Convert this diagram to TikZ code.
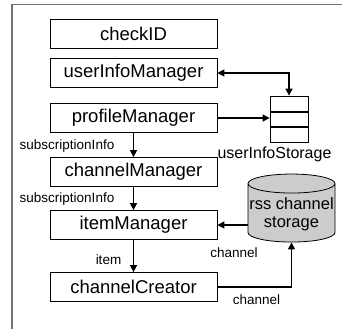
\documentclass[tikz,border=0pt]{standalone}
\usepackage{fontspec}
\setmainfont{Liberation Sans}
\usetikzlibrary{positioning,calc,arrows.meta,shapes.geometric}
\tikzset{font=\fontsize{18.5}{20}\selectfont}

\begin{document}
\begin{tikzpicture}[x=1pt,y=-1pt]
	\useasboundingbox (0,0) rectangle (342,329);
	\draw [line width=1.2pt, gray!90!black] (12,329) -- (12,4.5) -- (342,4.5);
	\begin{scope}
		\tikzstyle{every node}=[align=center, inner sep=1pt]
		\tikzstyle{module}=[draw, line width=0.8pt, minimum width=167pt, minimum height=29pt]
		\tikzstyle{flow}=[line width=1.5pt, -{Triangle[length=7pt,width=7pt]}]
		\tikzstyle{lbl}=[font=\fontsize{13.5}{15}\selectfont]

		\node [module] (chk) at (133.5, 34) {checkID};
		\node [module] (uim) at (133.5, 73) {userInfoManager};
		\node [module] (pm) at (133.5, 118) {profileManager};
		\node [module] (cm) at (133.5, 172) {channelManager};
		\node [module] (itm) at (133.5, 225) {itemManager};
		\node [module] (cc) at (133.5, 287) {channelCreator};

		\node [draw, line width=0.8pt, minimum width=38pt, minimum height=46pt] (uis) at (289, 119) {};
		\draw [line width=1.5pt] ($(uis.north west)!0.35!(uis.south west)$) -- ($(uis.north east)!0.35!(uis.south east)$);
		\draw [line width=1.5pt] ($(uis.north west)!0.67!(uis.south west)$) -- ($(uis.north east)!0.67!(uis.south east)$);
		\node [font=\fontsize{16}{18}\selectfont] (uisl) at (274.5, 154) {userInfoStorage};

		\node [draw, line width=0.8pt, fill=gray!40, cylinder, shape border rotate=90, aspect=0.22,
			minimum width=87pt, minimum height=68pt, font=\fontsize{16.5}{18}\selectfont] (rss) at (291.5, 214) {rss channel\\storage};

		\node [lbl] (sub1) at (67, 146) {subscriptionInfo};
		\node [lbl] (sub2) at (67, 199) {subscriptionInfo};
		\node [lbl] (it) at (108.5, 260) {item};
		\node [lbl] (ch1) at (234, 253) {channel};
		\node [lbl] (ch2) at (256.5, 300) {channel};

		\draw [flow, {Triangle[length=7pt,width=7pt]}-{Triangle[length=7pt,width=7pt]}] (uim.east) -| (uis.north);
		\draw [flow] (pm.east) -- (pm.east -| uis.west);
		\draw [flow] (pm) to (cm);
		\draw [flow] (cm) to (itm);
		\draw [flow] (itm) to (cc);
		\draw [flow] (itm.east -| rss.west) -- (itm.east);
		\draw [flow] (cc.east) -| (rss.south);
	\end{scope}
\end{tikzpicture}
\end{document}
